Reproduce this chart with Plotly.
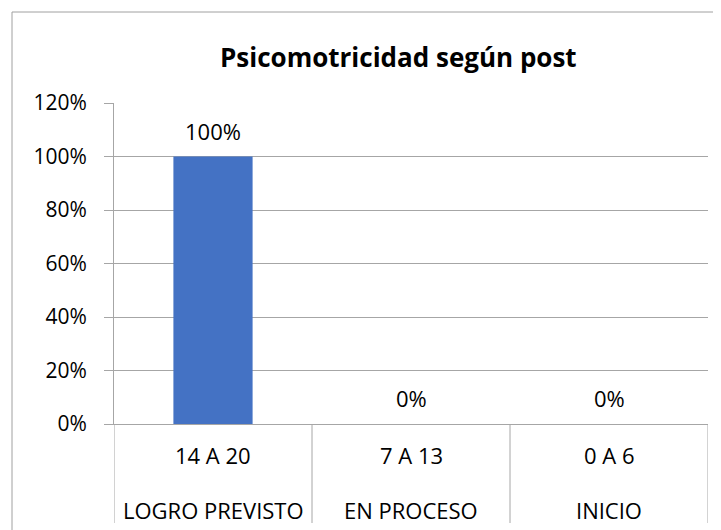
import plotly.graph_objects as go

inner_labels = ["14 A 20", "7 A 13", "0 A 6"]
outer_labels = ["LOGRO PREVISTO", "EN PROCESO", "INICIO"]
values = [1.0, 0.0, 0.0]
y_ticks = [0, 0.2, 0.4, 0.6, 0.8, 1.0, 1.2]
title_text = "Psicomotricidad según post"

FONT = "'Open Sans', 'Noto Sans', sans-serif"
GRID = "#a6a6a6"
BLACK = "#000000"

# the page body adds an 8px offset; targets are given in window pixels
OFF = 8
L, R, T, B = 114 - OFF, 708 - OFF, 103 - OFF, 424 - OFF
PW, PH = R - L, B - T

fig = go.Figure()
fig.add_trace(go.Bar(
    x=inner_labels,
    y=values,
    marker=dict(color="#4472c4", line=dict(width=0)),
    width=0.4,
    hoverinfo="skip",
))

annotations = [dict(
    text=f"<b>{title_text}</b>", xref="paper", yref="paper",
    x=(398 - OFF - L) / PW, y=(B - (57 - OFF)) / PH, xanchor="center", yanchor="middle",
    showarrow=False, font=dict(family=FONT, size=26, color=BLACK),
)]
# data labels
for cat, v in zip(inner_labels, values):
    annotations.append(dict(
        text=f"{v:.0%}", x=cat, y=v, xref="x", yref="y", yshift=26,
        xanchor="center", yanchor="middle", showarrow=False,
        font=dict(family=FONT, size=22, color=BLACK),
    ))
# two-level category labels
for cat, outer in zip(inner_labels, outer_labels):
    annotations.append(dict(
        text=cat, x=cat, y=0, xref="x", yref="paper", yshift=-31,
        xanchor="center", yanchor="middle", showarrow=False,
        font=dict(family=FONT, size=22, color=BLACK),
    ))
    annotations.append(dict(
        text=outer, x=cat, y=0, xref="x", yref="paper", yshift=-86,
        xanchor="center", yanchor="middle", showarrow=False,
        font=dict(family=FONT, size=22, color=BLACK),
    ))

shapes = [dict(
    type="rect", xref="paper", yref="paper",
    x0=(12 - OFF - L) / PW, x1=1.2, y0=-0.5, y1=(B - (12 - OFF)) / PH,
    line=dict(color="#a0a0a0", width=1), fillcolor="rgba(0,0,0,0)", layer="below",
)]
# category dividers
for i in range(len(inner_labels) + 1):
    shapes.append(dict(
        type="line", xref="x", yref="paper",
        x0=i - 0.5, x1=i - 0.5, y0=0, y1=-(523 - 424) / PH,
        line=dict(color=GRID, width=1),
    ))

fig.update_layout(
    width=721, height=530,
    margin=dict(l=L, r=721 - R, t=T, b=530 - B, autoexpand=False),
    paper_bgcolor="white", plot_bgcolor="white",
    showlegend=False,
    font=dict(family=FONT, size=20, color=BLACK),
    annotations=annotations,
    shapes=shapes,
)

fig.update_yaxes(
    range=[0, 1.2], tickvals=y_ticks, tickformat=".0%",
    showgrid=True, gridcolor=GRID, gridwidth=1,
    showline=True, linecolor=GRID, linewidth=1,
    ticks="outside", ticklen=9, tickcolor=GRID, ticklabelstandoff=13,
    zeroline=False, automargin=False,
    tickfont=dict(family=FONT, size=21, color=BLACK),
)
fig.update_xaxes(
    type="category", range=[-0.5, 2.5],
    showline=True, linecolor=GRID, linewidth=1,
    showticklabels=False, ticks="", automargin=False,
)

fig.write_html("out.html")
